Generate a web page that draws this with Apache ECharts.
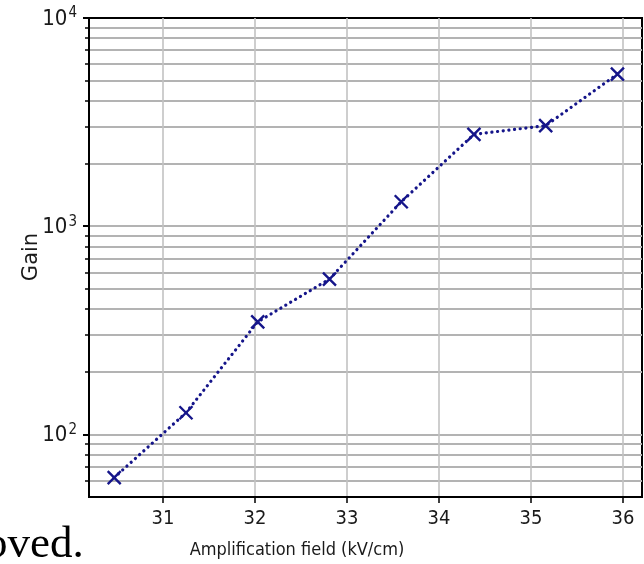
<!DOCTYPE html>
<html>
<head>
    <meta charset="UTF-8">
    <title>Gain vs amplification field</title>
    <style>
        html, body {
            margin: 0;
            padding: 0;
            background: #fff;
        }
        #container {
            width: 644px;
            height: 564px;
        }
    </style>
</head>
<body>
<div id="container"></div>

<script src="https://cdn.jsdelivr.net/npm/echarts@6/dist/echarts.min.js"></script>
<script>
    // measured points
    var fieldKV = [30.47, 31.25, 32.03, 32.81, 33.59, 34.38, 35.16, 35.94];
    var gain = [62, 127, 347, 557, 1310, 2760, 3040, 5380];

    // tick positions
    var xTicks = [31, 32, 33, 34, 35, 36];
    var yMajor = [100, 1000, 10000];
    var yMinor = [60, 70, 80, 90, 100, 200, 300, 400, 500, 600, 700, 800, 900,
        1000, 2000, 3000, 4000, 5000, 6000, 7000, 8000, 9000];

    var navy = '#15158a';
    var narrow = "'Liberation Sans Narrow', 'DejaVu Sans Condensed', sans-serif";

    function buildChart() {
        var chart = echarts.init(document.getElementById('container'), null, {renderer: 'canvas'});

        var points = [];
        for (var i = 0; i < fieldKV.length; i++) {
            points.push([fieldKV[i], gain[i]]);
        }

        var option = {
            animation: false,
            backgroundColor: '#fff',
            grid: {
                left: 89,
                right: 2,
                top: 18,
                bottom: 67,
                show: true,
                borderColor: '#000',
                borderWidth: 2,
                backgroundColor: '#fff'
            },
            xAxis: {
                type: 'value',
                min: 30.196,
                max: 36.207,
                axisLine: {show: true, onZero: false, lineStyle: {color: '#000', width: 2}},
                axisTick: {show: true, length: 6, customValues: xTicks, lineStyle: {color: '#000', width: 1.5}},
                axisLabel: {
                    customValues: xTicks,
                    margin: 12,
                    fontSize: 20,
                    fontFamily: narrow,
                    color: '#1a1a1a'
                },
                splitLine: {show: true, lineStyle: {color: '#c2c2c2', width: 1.6}}
            },
            yAxis: [{
                // minor ticks + grid
                type: 'log',
                logBase: 10,
                min: 50,
                max: 10000,
                axisLine: {show: true, lineStyle: {color: '#000', width: 2}},
                axisTick: {show: true, length: 4, customValues: yMinor, lineStyle: {color: '#000', width: 1.5}},
                axisLabel: {show: false},
                splitLine: {show: true, lineStyle: {color: '#b3b3b3', width: 2}}
            }, {
                // major ticks + labels
                type: 'log',
                logBase: 10,
                min: 50,
                max: 10000,
                position: 'left',
                axisLine: {show: false},
                axisTick: {show: true, length: 6, customValues: yMajor, lineStyle: {color: '#000', width: 2}},
                splitLine: {show: false},
                axisLabel: {
                    customValues: yMajor,
                    margin: 12,
                    formatter: function (v) {
                        var e = Math.round(Math.log(v) / Math.LN10);
                        return '{b|10}{s|' + e + '}';
                    },
                    rich: {
                        b: {fontSize: 22, fontFamily: narrow, color: '#1a1a1a', lineHeight: 24, verticalAlign: 'bottom'},
                        s: {fontSize: 15, fontFamily: narrow, color: '#1a1a1a', lineHeight: 24, verticalAlign: 'top', padding: [0, 0, 0, 1]}
                    }
                }
            }],
            graphic: [{
                type: 'text',
                x: 297,
                y: 550,
                style: {
                    text: 'Amplification field (kV/cm)',
                    font: '18px ' + narrow,
                    fill: '#1a1a1a',
                    align: 'center',
                    verticalAlign: 'middle'
                }
            }, {
                type: 'text',
                x: 32,
                y: 257,
                rotation: Math.PI / 2,
                style: {
                    text: 'Gain',
                    font: '21px "DejaVu Sans"',
                    fill: '#1a1a1a',
                    align: 'center',
                    verticalAlign: 'middle'
                }
            }, {
                type: 'text',
                x: -15,
                y: 545,
                style: {
                    text: 'oved.',
                    font: '45px "Liberation Serif", serif',
                    fill: '#000',
                    align: 'left',
                    verticalAlign: 'middle'
                }
            }],
            series: [{
                type: 'line',
                yAxisIndex: 0,
                data: points,
                symbol: 'path://M0,0L10,10M10,0L0,10',
                symbolSize: 13,
                showAllSymbol: true,
                itemStyle: {color: 'none', borderColor: navy, borderWidth: 2.4},
                lineStyle: {color: navy, width: 3.2, type: [0.1, 5.6], cap: 'round'},
                emphasis: {disabled: true},
                z: 5
            }]
        };

        chart.setOption(option);
    }

    buildChart();
</script>
</body>
</html>
